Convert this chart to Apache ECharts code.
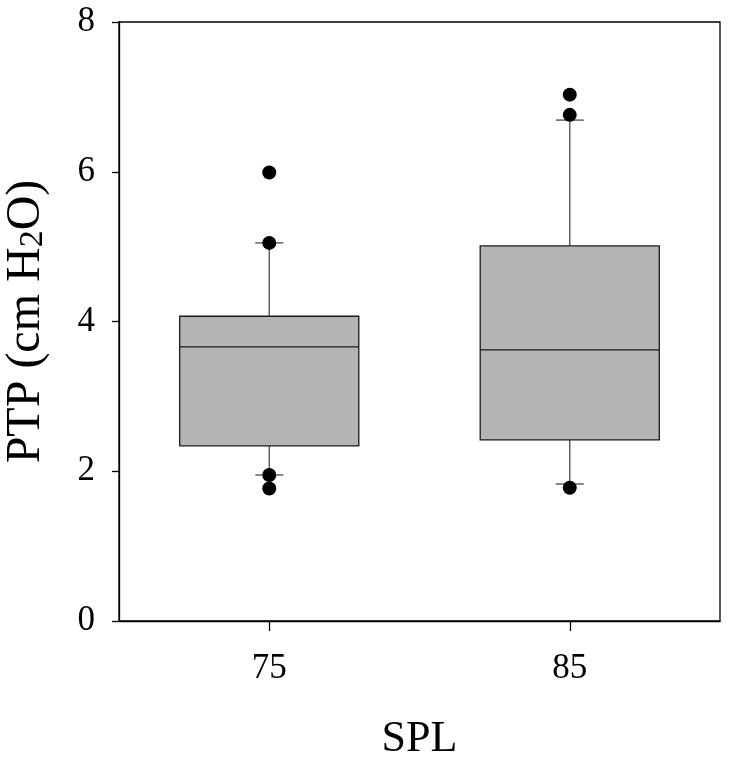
<!DOCTYPE html>
<html>
<head>
<meta charset="utf-8">
<script src="https://cdn.jsdelivr.net/npm/echarts@6/dist/echarts.min.js"></script>
<style>
html,body{margin:0;padding:0;background:#fff;}
#c{width:733px;height:762px;}
</style>
</head>
<body>
<div id="c"></div>
<script>
var categories = ['75', '85'];
var whiskerLow = [1.95, 1.83];
var q1 = [2.34, 2.42];
var median = [3.66, 3.62];
var q3 = [4.07, 5.01];
var whiskerHigh = [5.05, 6.69];
var outliers75 = [5.99, 5.05, 1.95, 1.77];
var outliers85 = [7.03, 6.76, 1.78];
var yTicks = [0, 2, 4, 6, 8];

var FONT = '"Liberation Serif", "Times New Roman", serif';

var boxData = categories.map(function (c, i) {
  return [i, whiskerLow[i], q1[i], median[i], q3[i], whiskerHigh[i]];
});
var outlierData = [];
outliers75.forEach(function (v) { outlierData.push([0, v]); });
outliers85.forEach(function (v) { outlierData.push([1, v]); });

var chart = echarts.init(document.getElementById('c'), null, {renderer: 'canvas'});
chart.setOption({
  animation: false,
  backgroundColor: '#fff',
  grid: {left: 119, right: 13, top: 22, bottom: 141, show: true, borderColor: '#000', borderWidth: 1.3,
    backgroundColor: 'transparent', containLabel: false, outerBoundsMode: 'none'},
  xAxis: {
    type: 'category',
    data: categories,
    boundaryGap: true,
    axisLine: {show: true, lineStyle: {color: '#000', width: 1.3}},
    axisTick: {show: true, alignWithLabel: true, length: 10, lineStyle: {color: '#000', width: 1.3}},
    axisLabel: {color: '#000', fontFamily: FONT, fontSize: 35, margin: 30},
    splitLine: {show: false},
    name: 'SPL',
    nameLocation: 'middle',
    nameGap: 96,
    nameTextStyle: {color: '#000', fontFamily: FONT, fontSize: 44}
  },
  yAxis: {
    type: 'value',
    min: 0, max: 8, interval: 2,
    axisLine: {show: true, lineStyle: {color: '#000', width: 1.3}},
    axisTick: {show: true, length: 7, lineStyle: {color: '#000', width: 1.3}},
    axisLabel: {color: '#000', fontFamily: FONT, fontSize: 35, margin: 24,
      formatter: function (v) { return yTicks.indexOf(v) >= 0 ? String(v) : ''; }},
    splitLine: {show: false},
    name: 'PTP (cm H{s|2}O)',
    nameLocation: 'middle',
    nameGap: 69,
    nameTextStyle: {color: '#000', fontFamily: FONT, fontSize: 48,
      rich: {s: {fontFamily: FONT, fontSize: 34, color: '#000', verticalAlign: 'bottom', padding: [14, 0, 0, 0]}}}
  },
  series: [
    {
      type: 'custom',
      data: boxData,
      encode: {x: 0, y: [1, 2, 3, 4, 5]},
      renderItem: function (params, api) {
        var idx = api.value(0);
        var bw = api.size([1, 0])[0] * 0.596;
        var pLow = api.coord([idx, api.value(1)]);
        var pQ1 = api.coord([idx, api.value(2)]);
        var pMed = api.coord([idx, api.value(3)]);
        var pQ3 = api.coord([idx, api.value(4)]);
        var pHigh = api.coord([idx, api.value(5)]);
        var cx = pQ1[0];
        var capW = 28;
        var wStyle = {stroke: '#4a4a4a', lineWidth: 1.3};
        return {
          type: 'group',
          children: [
            {type: 'line', shape: {x1: cx, y1: pQ3[1], x2: cx, y2: pHigh[1]}, style: wStyle},
            {type: 'line', shape: {x1: cx, y1: pQ1[1], x2: cx, y2: pLow[1]}, style: wStyle},
            {type: 'line', shape: {x1: cx - capW / 2, y1: pHigh[1], x2: cx + capW / 2, y2: pHigh[1]}, style: wStyle},
            {type: 'line', shape: {x1: cx - capW / 2, y1: pLow[1], x2: cx + capW / 2, y2: pLow[1]}, style: wStyle},
            {type: 'rect', shape: {x: cx - bw / 2, y: pQ3[1], width: bw, height: pQ1[1] - pQ3[1]},
              style: {fill: '#b4b4b4', stroke: '#1a1a1a', lineWidth: 1.3}},
            {type: 'line', shape: {x1: cx - bw / 2, y1: pMed[1], x2: cx + bw / 2, y2: pMed[1]},
              style: {stroke: '#1a1a1a', lineWidth: 1.3}}
          ]
        };
      },
      z: 2
    },
    {
      type: 'scatter',
      data: outlierData,
      symbol: 'circle',
      symbolSize: 14,
      itemStyle: {color: '#000', opacity: 1},
      z: 3
    }
  ]
});
</script>
</body>
</html>
